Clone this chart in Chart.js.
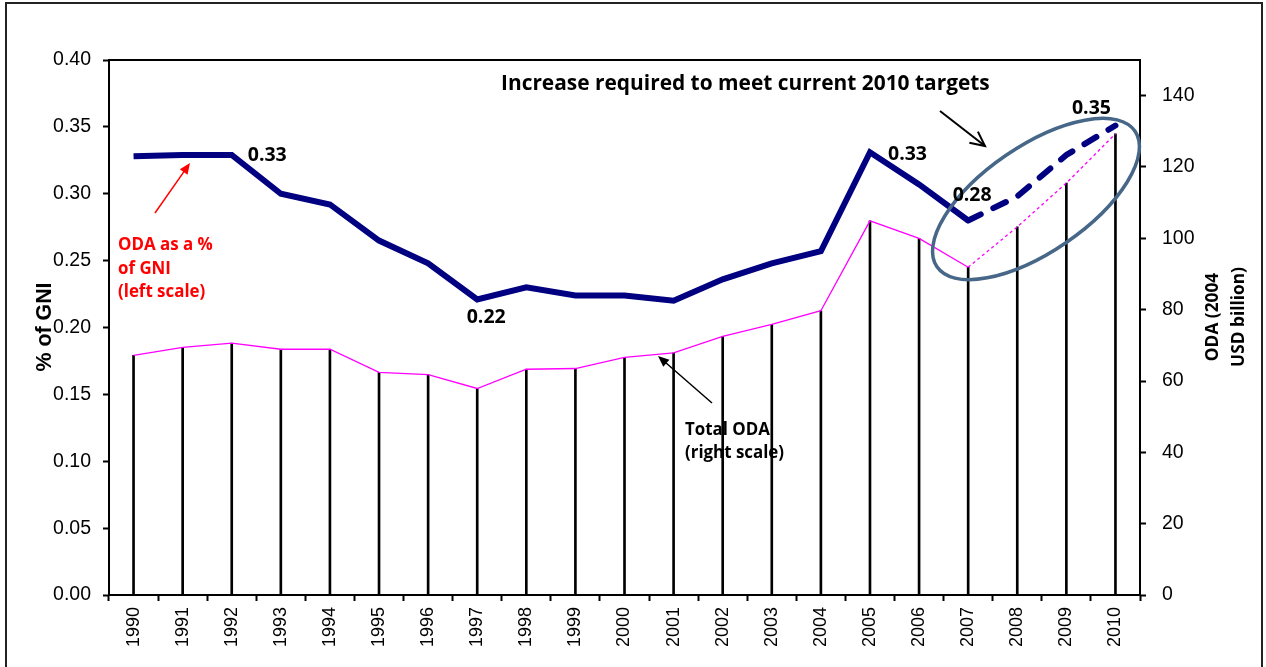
<!DOCTYPE html>
<html>
<head>
<meta charset="utf-8">
<script src="https://cdn.jsdelivr.net/npm/chart.js@4/dist/chart.umd.min.js"></script>
<style>
  body { margin: 0; background: #fff; }
  canvas { display: block; }
</style>
</head>
<body>
<canvas id="oda-chart" width="1266" height="667"></canvas>
<script>
const years = ['1990','1991','1992','1993','1994','1995','1996','1997','1998','1999','2000',
               '2001','2002','2003','2004','2005','2006','2007','2008','2009','2010'];
// ODA as % of GNI (left scale)
const odaPctGni = [0.328, 0.329, 0.329, 0.300, 0.292, 0.265, 0.248, 0.221, 0.230, 0.224, 0.224,
                   0.220, 0.236, 0.248, 0.257, 0.331, 0.307, 0.280, 0.298, 0.329, 0.351];
// Total ODA, 2004 USD billion (right scale)
const totalOda = [67.2, 69.4, 70.6, 68.9, 68.9, 62.4, 61.8, 57.9, 63.3, 63.5, 66.6,
                  67.9, 72.5, 75.9, 79.7, 104.9, 100.0, 91.9, 103.2, 115.5, 129.3];
const leftTicks = [0, 0.05, 0.10, 0.15, 0.20, 0.25, 0.30, 0.35, 0.40];
const rightTicks = [0, 20, 40, 60, 80, 100, 120, 140];
const targetStart = 17; // 2007: projections after this are dashed
const valueLabels = [
  { i: 2, text: '0.33', dx: 16, dy: 0, align: 'left' },
  { i: 7, text: '0.22', dx: 9, dy: 18, align: 'center' },
  { i: 15, text: '0.33', dx: 18, dy: 2, align: 'left' },
  { i: 17, text: '0.28', dx: 4, dy: -25, align: 'center' },
  { i: 20, text: '0.35', dx: -24, dy: -17, align: 'center' }
];

const CAL = '"Open Sans", Lato, sans-serif';
const ARIAL = '"Liberation Sans", Arial, sans-serif';
Chart.defaults.font.family = ARIAL;
Chart.defaults.font.size = 18;
Chart.defaults.color = '#000';

// pick a font size so that the text spans roughly the width seen in the original
function fitFont(ctx, text, family, width) {
  ctx.font = 'bold 20px ' + family;
  const size = 20 * width / ctx.measureText(text).width;
  ctx.font = 'bold ' + size.toFixed(1) + 'px ' + family;
}

function arrow(ctx, x1, y1, x2, y2, color, open) {
  const a = Math.atan2(y2 - y1, x2 - x1);
  const L = open ? 16 : 12, w = open ? 0.45 : 0.4;
  ctx.save();
  ctx.strokeStyle = color; ctx.fillStyle = color; ctx.lineWidth = open ? 2 : 1.5;
  ctx.beginPath(); ctx.moveTo(x1, y1);
  ctx.lineTo(open ? x2 : x2 - Math.cos(a) * L * 0.8, open ? y2 : y2 - Math.sin(a) * L * 0.8);
  ctx.stroke();
  ctx.beginPath();
  ctx.moveTo(x2 - L * Math.cos(a - w), y2 - L * Math.sin(a - w));
  ctx.lineTo(x2, y2);
  ctx.lineTo(x2 - L * Math.cos(a + w), y2 - L * Math.sin(a + w));
  if (open) { ctx.stroke(); } else { ctx.closePath(); ctx.fill(); }
  ctx.restore();
}

const annotations = {
  id: 'annotations',
  afterDraw(chart) {
    const { ctx, chartArea: ca } = chart;
    const meta = chart.getDatasetMeta(2);
    ctx.save();
    // outer frame
    ctx.strokeStyle = '#222'; ctx.lineWidth = 2;
    ctx.strokeRect(6, 3, 1256, 680);
    // plot top border
    ctx.strokeStyle = '#000'; ctx.lineWidth = 2;
    ctx.beginPath(); ctx.moveTo(ca.left, ca.top); ctx.lineTo(ca.right, ca.top); ctx.stroke();

    // ellipse around targets
    ctx.strokeStyle = '#476789'; ctx.lineWidth = 3.5;
    ctx.beginPath();
    ctx.ellipse(1036, 199, 120, 53, -0.6, 0, Math.PI * 2);
    ctx.stroke();

    // value labels
    fitFont(ctx, '0.33', CAL, 39);
    ctx.fillStyle = '#000'; ctx.textBaseline = 'middle';
    valueLabels.forEach(l => {
      const p = meta.data[l.i];
      ctx.textAlign = l.align;
      ctx.fillText(l.text, p.x + l.dx, p.y + l.dy);
    });

    // title annotation
    fitFont(ctx, 'Increase required to meet current 2010 targets', CAL, 488);
    ctx.textAlign = 'left';
    ctx.fillText('Increase required to meet current 2010 targets', 501, 84);
    arrow(ctx, 940, 111, 985, 146, '#000', true);

    // red label
    ctx.fillStyle = '#ff0000';
    fitFont(ctx, 'ODA as a %', CAL, 95);
    ctx.fillText('ODA as a %', 118, 245);
    ctx.fillText('of GNI', 118, 269);
    ctx.fillText('(left scale)', 118, 292);
    arrow(ctx, 155, 213, 190, 163, '#ff0000', false);

    // total ODA label
    ctx.fillStyle = '#000';
    fitFont(ctx, 'Total ODA', CAL, 85);
    ctx.fillText('Total ODA', 685, 430);
    ctx.fillText('(right scale)', 685, 453);
    arrow(ctx, 712, 403, 658, 356, '#000', false);

    // axis titles
    ctx.textAlign = 'center';
    ctx.save();
    ctx.translate(45, 327); ctx.rotate(-Math.PI / 2);
    fitFont(ctx, '% of GNI', ARIAL, 89);
    ctx.fillText('% of GNI', 0, 0);
    ctx.restore();
    ctx.save();
    ctx.translate(1226, 317); ctx.rotate(-Math.PI / 2);
    fitFont(ctx, 'USD billion)', CAL, 100);
    ctx.fillText('ODA (2004', 0, -13);
    ctx.fillText('USD billion)', 0, 13);
    ctx.restore();
    ctx.restore();
  }
};

const dashAfter = dash => ctx => ctx.p0DataIndex >= targetStart ? dash : undefined;

new Chart(document.getElementById('oda-chart'), {
  type: 'bar',
  data: {
    labels: years,
    datasets: [
      {
        type: 'bar',
        label: 'Total ODA bars',
        data: totalOda,
        yAxisID: 'y2',
        backgroundColor: '#000',
        barThickness: 2,
        order: 3
      },
      {
        type: 'line',
        label: 'Total ODA',
        data: totalOda,
        yAxisID: 'y2',
        borderColor: '#ff00ff',
        borderWidth: 1.3,
        pointRadius: 0,
        tension: 0,
        segment: { borderDash: dashAfter([3, 3]) },
        order: 2
      },
      {
        type: 'line',
        label: 'ODA as % of GNI',
        data: odaPctGni,
        yAxisID: 'y',
        borderColor: '#000080',
        borderWidth: 6,
        pointRadius: 0,
        tension: 0,
        segment: { borderDash: dashAfter([14, 14]), borderCapStyle: ctx => ctx.p0DataIndex >= targetStart ? 'round' : 'butt' },
        order: 1
      }
    ]
  },
  options: {
    responsive: false,
    animation: false,
    layout: { padding: { top: 60, left: 0, right: 0, bottom: 0 } },
    plugins: { legend: { display: false }, tooltip: { enabled: false } },
    scales: {
      x: {
        offset: true,
        grid: { offset: true, drawOnChartArea: false, tickLength: 6, tickWidth: 2, tickColor: '#000' },
        border: { color: '#000', width: 2 },
        ticks: { minRotation: 90, maxRotation: 90, padding: 6 },
        afterFit: s => { s.height = 72; }
      },
      y: {
        position: 'left',
        min: 0, max: 0.4,
        afterBuildTicks: s => { s.ticks = leftTicks.map(v => ({ value: v })); },
        ticks: { callback: v => v.toFixed(2), padding: 12, font: { size: 19.5 } },
        grid: { drawOnChartArea: false, tickLength: 6, tickWidth: 2, tickColor: '#000' },
        border: { color: '#000', width: 2 },
        afterFit: s => { s.width = 109; }
      },
      y2: {
        position: 'right',
        min: 0, max: 150,
        afterBuildTicks: s => { s.ticks = rightTicks.map(v => ({ value: v })); },
        ticks: { padding: 16, font: { size: 19.5 } },
        grid: { drawOnChartArea: false, tickLength: 6, tickWidth: 2, tickColor: '#000' },
        border: { color: '#000', width: 2 },
        afterFit: s => { s.width = 126; }
      }
    }
  },
  plugins: [annotations]
});
</script>
</body>
</html>
